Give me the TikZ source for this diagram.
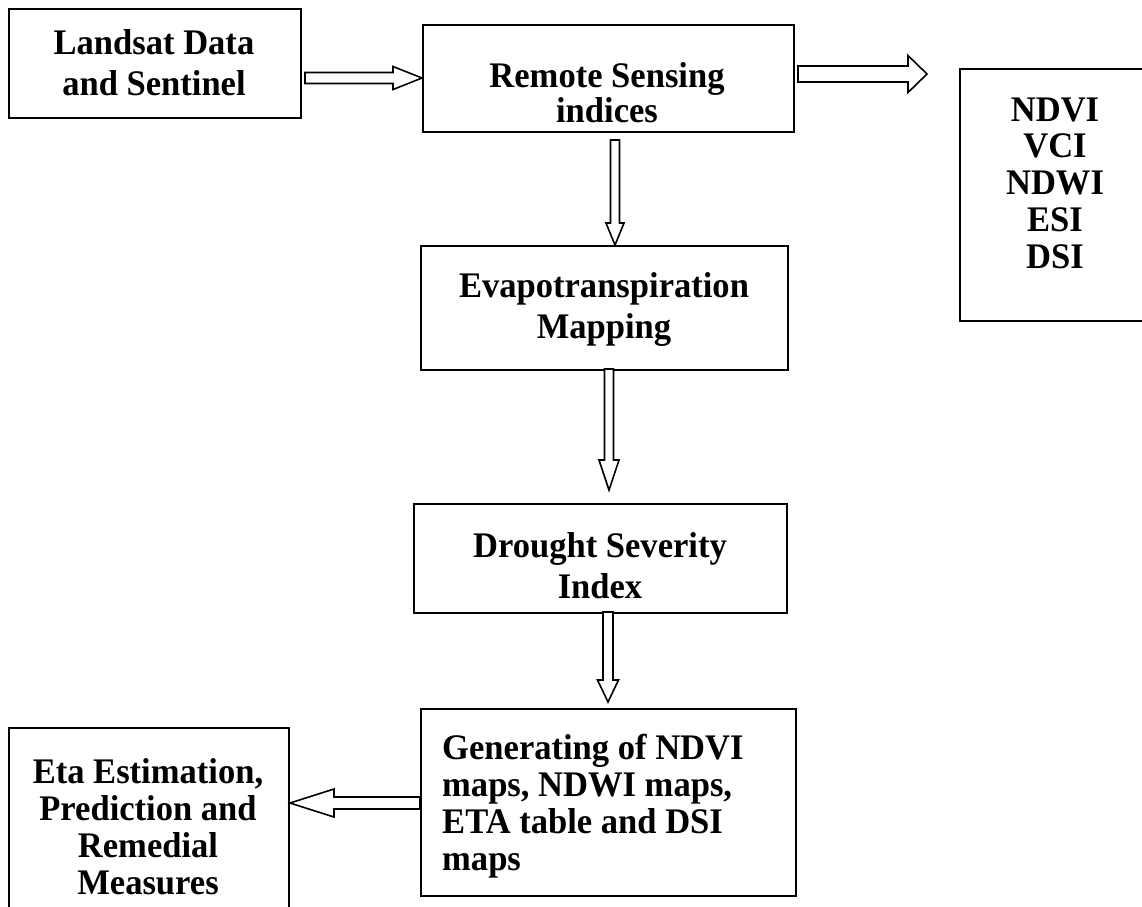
\documentclass[tikz,border=0pt]{standalone}
\usepackage{fontspec}
\setmainfont{Liberation Serif}[FakeStretch=0.96]
\usetikzlibrary{calc}
\tikzset{
  box/.style={draw, line width=2pt, inner sep=0pt, anchor=north west},
  txt/.style={font=\bfseries\fontsize{36}{41}\selectfont, align=center, inner sep=0pt},
  arrowline/.style={draw, line width=1.6pt, fill=white, line join=miter},
}
% hollow block arrow: start, end, shaft half-width, head half-width, head length
\newcommand\blockarrow[5]{%
\draw[arrowline] let \p1=(#1), \p2=(#2),
  \n2={veclen(\x2-\x1,\y2-\y1)}, \n3={(\x2-\x1)/\n2}, \n4={(\y2-\y1)/\n2},
  \n5={\n2-#5} in
  ({\x1+#3*\n4},{\y1-#3*\n3}) --
  ({\x1+\n5*\n3+#3*\n4},{\y1+\n5*\n4-#3*\n3}) --
  ({\x1+\n5*\n3+#4*\n4},{\y1+\n5*\n4-#4*\n3}) --
  (\p2) --
  ({\x1+\n5*\n3-#4*\n4},{\y1+\n5*\n4+#4*\n3}) --
  ({\x1+\n5*\n3-#3*\n4},{\y1+\n5*\n4+#3*\n3}) --
  ({\x1-#3*\n4},{\y1+#3*\n3}) -- cycle;}
\begin{document}
\begin{tikzpicture}[x=1pt,y=-1pt]
\useasboundingbox (0,0) rectangle (1142,906);
\fill[white] (0,0) rectangle (1142,906);

% boxes
\node[box, minimum width=292pt, minimum height=109pt] (b1) at (8,8) {};
\node[box, minimum width=371pt, minimum height=107pt] (b2) at (422,24) {};
\node[box, minimum width=367pt, minimum height=124pt] (b3) at (420,245) {};
\node[box, minimum width=373pt, minimum height=109pt] (b4) at (413,503) {};
\node[box, minimum width=375pt, minimum height=187pt] (b5) at (420,708) {};
\node[box, minimum width=280pt, minimum height=220pt] (b6) at (8,727) {};
\node[box, minimum width=200pt, minimum height=252pt] (b7) at (959,68) {};

% texts
\node[txt] (t1) at (154,63) {Landsat Data\\and Sentinel};
\node[txt, font=\bfseries\fontsize{36}{35}\selectfont] (t2) at (607,93) {Remote Sensing\\indices};
\node[txt] (t3) at (604,309) {Evapotranspiration\\Mapping};
\node[txt] (t4) at (600,566) {Drought Severity\\Index};
\node[txt, align=left, anchor=west, font=\bfseries\fontsize{36}{36.8}\selectfont] (t5) at (442,806) {Generating of NDVI\\maps, NDWI maps,\\ETA table and DSI\\maps};
\node[txt, font=\bfseries\fontsize{36}{37}\selectfont] (t6) at (148,827) {Eta Estimation,\\Prediction and\\Remedial\\Measures};
\node[txt, font=\bfseries\fontsize{36}{36.8}\selectfont] (t7) at (1055,183) {NDVI\\VCI\\NDWI\\ESI\\DSI};

% connector end points
\coordinate (a1s) at (305,78);
\coordinate (a1e) at (b2.west |- a1s);
\coordinate (a2s) at (798,74);
\coordinate (a2e) at (927,74);
\coordinate (a3s) at (615,140);
\coordinate (a3e) at (a3s |- b3.north);
\coordinate (a4s) at (609,369);
\coordinate (a4e) at (609,490);
\coordinate (a5s) at (608,612);
\coordinate (a5e) at (608,702);
\coordinate (a6s) at (b5.west |- 0,803);
\coordinate (a6e) at (b6.east |- 0,803);

\blockarrow{a1s}{a1e}{5.5}{11.5}{29}
\blockarrow{a2s}{a2e}{8}{18.5}{19}
\blockarrow{a3s}{a3e}{4.5}{9}{22}
\blockarrow{a4s}{a4e}{4.5}{10}{30}
\blockarrow{a5s}{a5e}{5}{10.5}{22}
\blockarrow{a6s}{a6e}{6}{14}{44}
\end{tikzpicture}
\end{document}
